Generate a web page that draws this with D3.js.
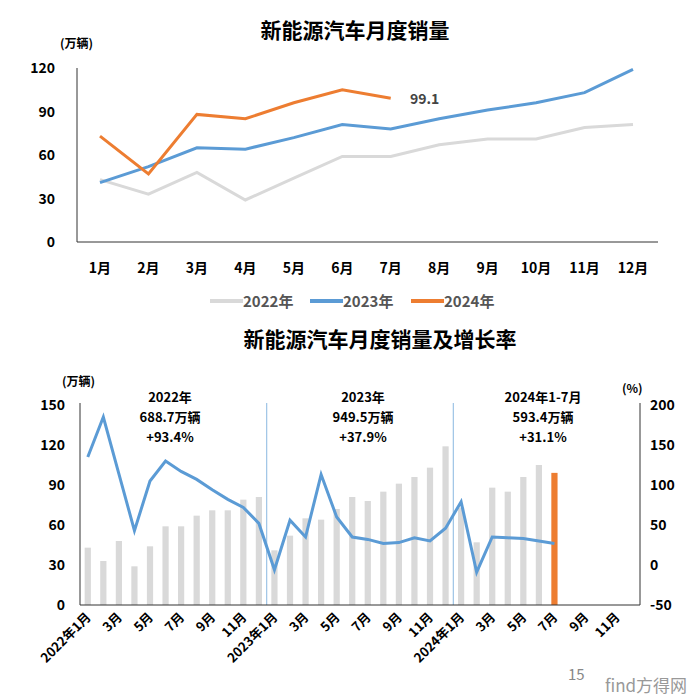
<!DOCTYPE html><html><head><meta charset="utf-8"><script src="https://cdn.jsdelivr.net/npm/d3@7"></script>
<style>body{margin:0;background:#fff}text{font-family:"Noto Sans CJK SC","Noto Sans",sans-serif}</style></head><body>
<svg id="c" width="700" height="700"></svg>
<script>
const months=["1月","2月","3月","4月","5月","6月","7月","8月","9月","10月","11月","12月"];
const sales2022=[43,33,48,29,44,59,59,67,71,71,79,81];
const sales2023=[41,52,65,64,72,81,78,85,91,96,103,119];
const sales2024=[73,47,88,85,96,105,99.1];
const growth2022=[135,185,114,43,105,130,117,107,94,82,72,52];
const growth2023=[-6,56,35,113,60,35,32,27,28,34,30,46];
const growth2024=[79,-9,35,34,33,30,27];
const topTicks=[0,30,60,90,120];
const leftTicks=[0,30,60,90,120,150];
const rightTicks=[-50,0,50,100,150,200];
const blocks=[["2022年","688.7万辆","+93.4%"],["2023年","949.5万辆","+37.9%"],["2024年1-7月","593.4万辆","+31.1%"]];
const C22="#d9d9d9",C23="#5b9bd5",C24="#ed7d31";
const svg=d3.select("#c");
// top chart
const x1=d3.scalePoint().domain(months).range([100,633]);
const y1=d3.scaleLinear().domain([0,120]).range([242,68]);
svg.append("text").attr("x",355).attr("y",38).attr("text-anchor","middle").attr("font-size",21).attr("font-weight",700).text("新能源汽车月度销量");
svg.append("text").attr("x",60).attr("y",48).attr("font-size",12).attr("font-weight",700).text("(万辆)");
svg.append("line").attr("x1",77).attr("x2",77).attr("y1",68).attr("y2",242).attr("stroke","#333");
svg.append("line").attr("x1",77).attr("x2",658).attr("y1",242).attr("y2",242).attr("stroke","#333");
topTicks.forEach(t=>svg.append("text").attr("x",55).attr("y",y1(t)+5).attr("text-anchor","end").attr("font-size",14).attr("font-weight",700).text(t));
months.forEach(m=>svg.append("text").attr("x",x1(m)).attr("y",273).attr("text-anchor","middle").attr("font-size",14).attr("font-weight",700).text(m));
const ln=d3.line().x((d,i)=>x1(months[i])).y(d=>y1(d));
[[sales2022,C22],[sales2023,C23],[sales2024,C24]].forEach(([d,c])=>svg.append("path").attr("d",ln(d)).attr("fill","none").attr("stroke",c).attr("stroke-width",3));
svg.append("text").attr("x",410).attr("y",104).attr("font-size",14).attr("font-weight",700).attr("fill","#444").text("99.1");
[["2022年",C22,210],["2023年",C23,310],["2024年",C24,411]].forEach(([t,c,x])=>{svg.append("line").attr("x1",x).attr("x2",x+33).attr("y1",301).attr("y2",301).attr("stroke",c).attr("stroke-width",4);
svg.append("text").attr("x",x+33).attr("y",307).attr("font-size",15).attr("font-weight",700).attr("fill","#555").text(t);});
// bottom
svg.append("text").attr("x",380).attr("y",347).attr("text-anchor","middle").attr("font-size",21).attr("font-weight",700).text("新能源汽车月度销量及增长率");
const idx=d3.range(36);
const x2=d3.scaleBand().domain(idx).range([80,640]).paddingInner(0.6).paddingOuter(0.3);
const yL=d3.scaleLinear().domain([0,150]).range([605,405]);
const yR=d3.scaleLinear().domain([-50,200]).range([605,405]);
const sales=sales2022.concat(sales2023,sales2024);
const growth=growth2022.concat(growth2023,growth2024);
svg.append("g").selectAll("rect").data(sales).join("rect").attr("x",(d,i)=>x2(i)).attr("width",x2.bandwidth()).attr("y",d=>yL(d)).attr("height",d=>605-yL(d)).attr("fill",(d,i)=>i===30?C24:C22);
const cx=i=>x2(i)+x2.bandwidth()/2;
[12,24].forEach(i=>{const xx=(cx(i-1)+cx(i))/2;svg.append("line").attr("x1",xx).attr("x2",xx).attr("y1",403).attr("y2",605).attr("stroke","#9dc3e6").attr("stroke-width",1.2);});
svg.append("path").attr("d",d3.line().x((d,i)=>cx(i)).y(d=>yR(d))(growth)).attr("fill","none").attr("stroke",C23).attr("stroke-width",3);
svg.append("line").attr("x1",80).attr("x2",80).attr("y1",403).attr("y2",605).attr("stroke","#333");
svg.append("line").attr("x1",640).attr("x2",640).attr("y1",403).attr("y2",605).attr("stroke","#333");
svg.append("line").attr("x1",80).attr("x2",640).attr("y1",605).attr("y2",605).attr("stroke","#333");
leftTicks.forEach(t=>svg.append("text").attr("x",65).attr("y",yL(t)+5).attr("text-anchor","end").attr("font-size",14).attr("font-weight",700).text(t));
rightTicks.forEach(t=>svg.append("text").attr("x",650).attr("y",yR(t)+5).attr("font-size",14).attr("font-weight",700).text(t));
svg.append("text").attr("x",62).attr("y",386).attr("font-size",12).attr("font-weight",700).text("(万辆)");
svg.append("text").attr("x",622).attr("y",393).attr("font-size",12).attr("font-weight",700).text("(%)");
[170,363,543].forEach((x,k)=>blocks[k].forEach((t,j)=>svg.append("text").attr("x",x).attr("y",402+j*20).attr("text-anchor","middle").attr("font-size",13).attr("font-weight",700).text(t)));
const lab=i=>{const m=i%12;return m===0?`${2022+i/12}年1月`:(m+1)+"月";};
idx.filter(i=>i%2===0).forEach(i=>svg.append("text").attr("transform",`translate(${cx(i)+4},${618}) rotate(-45)`).attr("text-anchor","end").attr("font-size",13).attr("font-weight",700).text(lab(i)));
svg.append("text").attr("x",568).attr("y",680).attr("font-size",15).attr("fill","#888").text("15");
svg.append("text").attr("x",605).attr("y",692).attr("font-size",17).attr("fill","#999").text("find方得网");
</script></body></html>
